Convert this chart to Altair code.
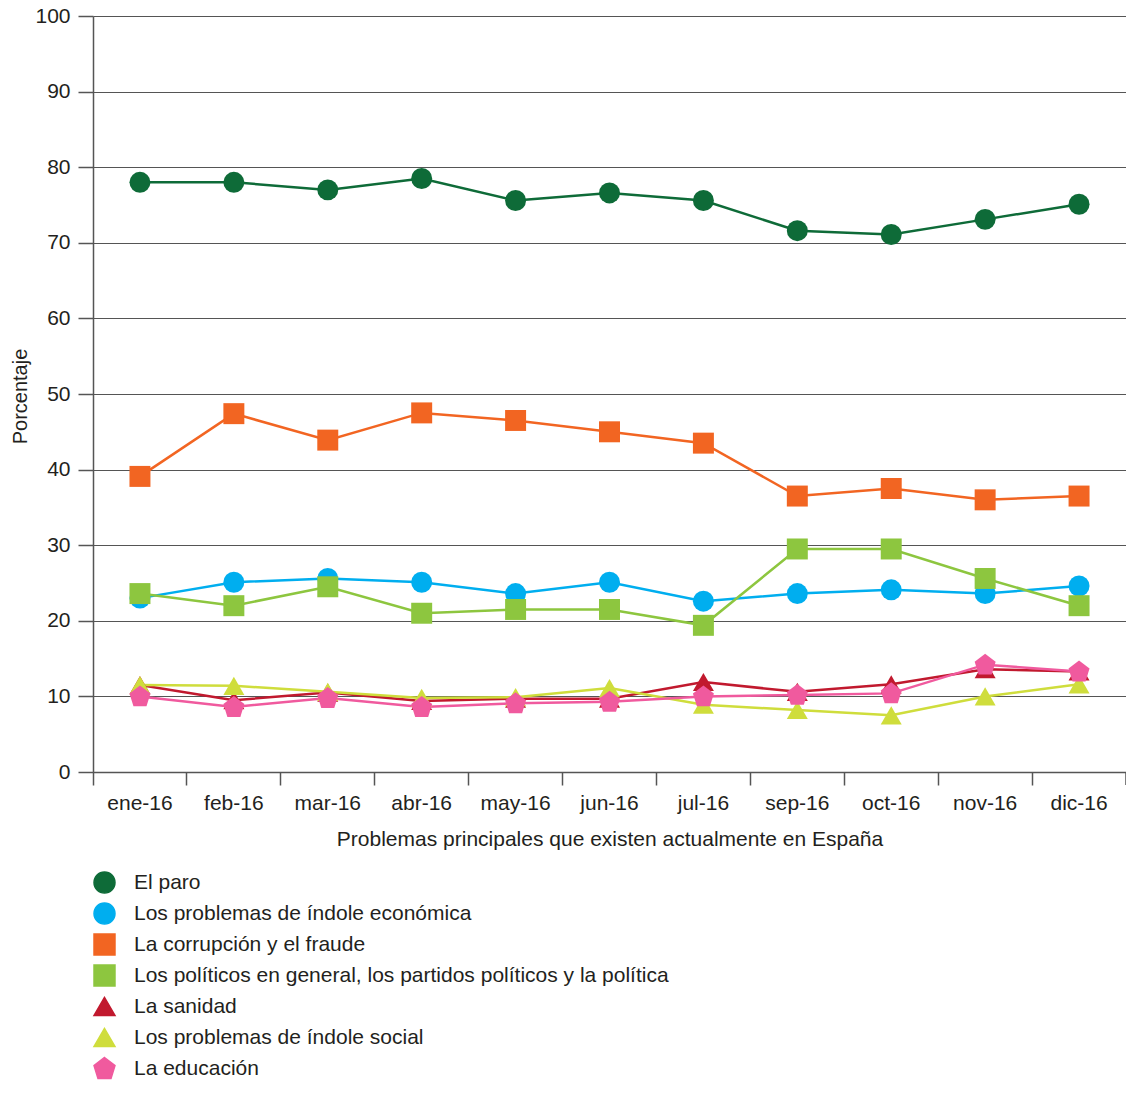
import altair as alt
import pandas as pd

months = ["ene-16", "feb-16", "mar-16", "abr-16", "may-16", "jun-16", "jul-16",
          "sep-16", "oct-16", "nov-16", "dic-16"]

series_names = [
    "El paro",
    "Los problemas de índole económica",
    "La corrupción y el fraude",
    "Los políticos en general, los partidos políticos y la política",
    "La sanidad",
    "Los problemas de índole social",
    "La educación",
]

paro = [78.0, 78.0, 77.0, 78.5, 75.6, 76.6, 75.6, 71.6, 71.1, 73.1, 75.1]
economica = [23.0, 25.1, 25.6, 25.1, 23.6, 25.1, 22.6, 23.6, 24.1, 23.6, 24.6]
corrupcion = [39.1, 47.4, 43.9, 47.5, 46.5, 45.0, 43.5, 36.5, 37.5, 36.0, 36.5]
politicos = [23.6, 22.0, 24.5, 21.0, 21.5, 21.5, 19.4, 29.5, 29.5, 25.6, 22.0]
sanidad = [11.5, 9.5, 10.5, 9.4, 9.7, 9.7, 11.9, 10.6, 11.6, 13.6, 13.3]
social = [11.5, 11.4, 10.6, 9.8, 9.9, 11.1, 8.9, 8.2, 7.5, 10.0, 11.6]
educacion = [10.0, 8.6, 9.8, 8.6, 9.1, 9.3, 10.0, 10.2, 10.4, 14.2, 13.3]

colors = ["#0E6B38", "#00AEEF", "#F26522", "#8DC63F", "#C1192E", "#CFDD3C", "#F05A9E"]
pentagon = "M0,-1.05L1,-0.28L0.62,0.95L-0.62,0.95L-1,-0.28Z"
shapes = ["circle", "circle", "square", "square", "triangle-up", "triangle-up", pentagon]
marker_sizes = [440, 440, 560, 560, 680, 680, 620]

all_values = [paro, economica, corrupcion, politicos, sanidad, social, educacion]
rows = []
for name, vals in zip(series_names, all_values):
    for m, v in zip(months, vals):
        rows.append({"mes": m, "serie": name, "valor": v})
df = pd.DataFrame(rows)

FONT = "Liberation Sans"
FS = 21
W = 1033
H = 756

x_enc = alt.X(
    "mes:N",
    sort=months,
    scale=alt.Scale(type="band", paddingInner=0, paddingOuter=0),
    axis=alt.Axis(
        title="Problemas principales que existen actualmente en España",
        bandPosition=0,
        labelAngle=0,
        labelFontSize=FS,
        labelFont=FONT,
        labelColor="#231F20",
        labelPadding=7,
        tickSize=13,
        tickColor="#555555",
        domainColor="#555555",
        titleFontSize=FS,
        titleFont=FONT,
        titleFontWeight="normal",
        titleColor="#231F20",
        titleX=W / 2,
        titleY=67,
        titleBaseline="middle",
        grid=False,
    ),
)
y_enc = alt.Y(
    "valor:Q",
    scale=alt.Scale(domain=[0, 100], nice=False),
    axis=alt.Axis(
        title="Porcentaje",
        values=list(range(0, 101, 10)),
        labelFontSize=FS,
        labelFont=FONT,
        labelColor="#231F20",
        labelPadding=8,
        tickSize=15,
        tickColor="#555555",
        domainColor="#555555",
        gridColor="#555555",
        gridOpacity=1,
        gridWidth=1,
        titleFontSize=FS - 1,
        titleFont=FONT,
        titleFontWeight="normal",
        titleColor="#231F20",
        titleX=-73,
        titleY=380,
        titleAngle=270,
        titleAlign="center",
        titleBaseline="middle",
    ),
)
legend_cfg = dict(
    title=None,
    orient="none",
    legendX=0,
    legendY=855,
    direction="vertical",
    columns=1,
    gridAlign="all",
    labelFontSize=FS,
    labelFont=FONT,
    labelColor="#231F20",
    labelOffset=18,
    symbolSize=420,
    rowPadding=3,
    labelLimit=900,
)
color_enc = alt.Color(
    "serie:N",
    sort=series_names,
    scale=alt.Scale(domain=series_names, range=colors),
    legend=alt.Legend(**legend_cfg),
)
shape_enc = alt.Shape(
    "serie:N",
    sort=series_names,
    scale=alt.Scale(domain=series_names, range=shapes),
    legend=alt.Legend(**legend_cfg),
)
size_enc = alt.Size(
    "serie:N",
    sort=series_names,
    scale=alt.Scale(domain=series_names, range=marker_sizes),
    legend=None,
)

base = alt.Chart(df)
lines = base.mark_line(strokeWidth=2.5).encode(
    x=x_enc, y=y_enc, color=color_enc, detail="serie:N"
)
points = base.mark_point(filled=True, opacity=1).encode(
    x=x_enc, y=y_enc, color=color_enc, shape=shape_enc, size=size_enc
)
right_tick = alt.Chart(pd.DataFrame({"a": [0]})).mark_rule(color="#555555", strokeWidth=1.5).encode(
    x=alt.value(W), y=alt.value(H), y2=alt.value(H + 13)
)

chart = alt.layer(lines, points, right_tick).properties(
    width=W,
    height=H,
    autosize=alt.AutoSizeParams(type="none"),
    padding={"left": 85, "top": 8, "right": 0, "bottom": 309},
).configure_view(stroke=None).configure_axis(domainWidth=1.5, tickWidth=1.5)

chart.save("out.html", embed_options={"renderer": "svg", "actions": False})
